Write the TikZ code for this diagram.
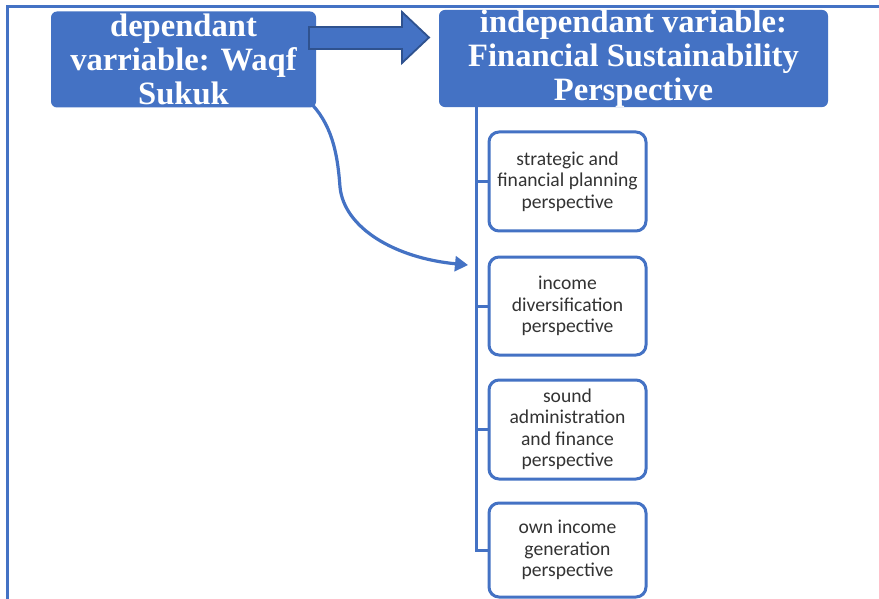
\documentclass[tikz,border=0pt]{standalone}
\usepackage{fontspec}
\setmainfont{Liberation Serif}
\newfontfamily\bodysans{Carlito}
\usetikzlibrary{arrows.meta}
\definecolor{accent}{HTML}{4472C4}
\definecolor{accentdark}{HTML}{2F528F}
\definecolor{bodytext}{HTML}{333333}
\tikzset{
  headbox/.style={draw=none, fill=accent, rounded corners=6pt, text=white,
    font=\fontsize{32.6}{33.8}\selectfont\bfseries, align=center, inner sep=0pt},
  itembox/.style={draw=accent, line width=3pt, fill=white, rounded corners=10pt,
    text=bodytext, font=\bodysans\fontsize{19.6}{21.5}\selectfont, align=center,
    minimum width=157pt, inner sep=0pt},
  trunkline/.style={draw=accent, line width=3pt},
}
\begin{document}
\begin{tikzpicture}[x=1pt, y=-1pt]
  \useasboundingbox (0,0) rectangle (879,599);
  \fill[white] (0,0) rectangle (879,599);

  % outer frame (top and left edges)
  \draw[accent, line width=3pt] (7,599) -- (7,7) -- (879,7);

  % heading boxes
  \node[headbox, minimum width=265pt, minimum height=96pt] (dep) at (183.5,59.5)
    {dependant\\varriable: Waqf\\Sukuk};
  \node[headbox, minimum width=389pt, minimum height=97pt] (indep) at (633.5,58.5)
    {independant variable:\\Financial Sustainability\\Perspective};

  % block arrow between the heading boxes
  \draw[fill=accent, draw=accentdark, line width=1.8pt, line join=miter]
    (309,27) -- (402,27) -- (402,12) -- (429,37.5) -- (402,63) -- (402,49) -- (309,49) -- cycle;

  % perspective boxes
  \node[itembox, minimum height=99pt] (s1) at (567.5,181.5)
    {strategic and\\financial planning\\perspective};
  \node[itembox, minimum height=98pt] (s2) at (567.5,306)
    {income\\diversification\\perspective};
  \node[itembox, minimum height=99pt] (s3) at (567.5,429.5)
    {sound\\administration\\and finance\\perspective};
  \node[itembox, minimum height=94pt] (s4) at (567.5,550)
    {own income\\generation\\perspective};

  % trunk with branches to each perspective box
  \coordinate (trunk) at (476,107);
  \path[trunkline] (trunk) |- (s4.west);
  \path[trunkline] (trunk |- s1.west) -- (s1.west);
  \path[trunkline] (trunk |- s2.west) -- (s2.west);
  \path[trunkline] (trunk |- s3.west) -- (s3.west);

  % curved arrow from the dependant box towards the trunk
  \coordinate (curveend) at (468,265);
  \draw[accent, line width=3.2pt, -{Triangle[length=13pt, width=15pt]}]
    (dep.south east) ++(-4,-3) .. controls (334,128) and (338,160) .. (340,187)
    .. controls (344,228) and (395,258) .. (curveend);
\end{tikzpicture}
\end{document}
